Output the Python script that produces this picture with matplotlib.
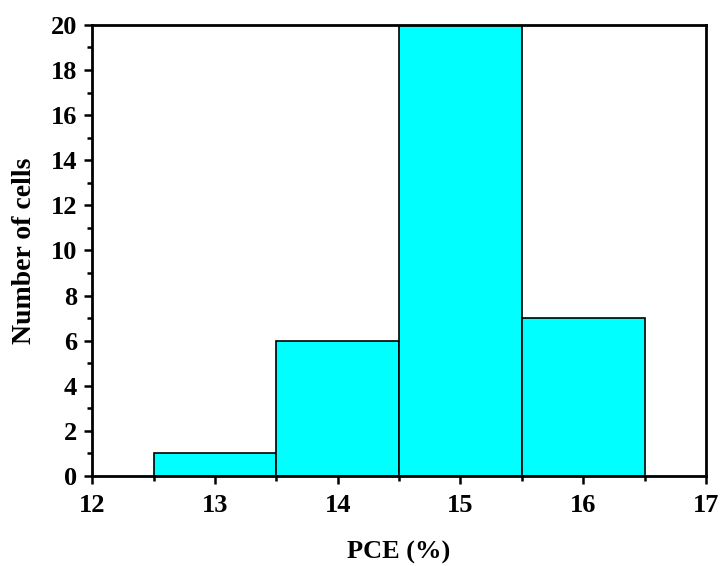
import numpy as np
import matplotlib.pyplot as plt
from matplotlib.ticker import MultipleLocator

plt.rcParams['font.family'] = ['Liberation Serif', 'DejaVu Serif']
plt.rcParams['font.weight'] = 'bold'

pce_centers = [13, 14, 15, 16]
cell_counts = [1, 6, 20, 7]

fig = plt.figure(figsize=(7.21, 5.66), dpi=100)
ax = fig.add_axes([0.128, 0.159, 0.851, 0.797])

ax.bar(pce_centers, cell_counts, width=1.0, color='#00ffff', edgecolor='black', linewidth=1.2)

ax.set_xlim(12, 17)
ax.set_ylim(0, 20)
ax.xaxis.set_major_locator(MultipleLocator(1))
ax.xaxis.set_minor_locator(MultipleLocator(0.5))
ax.yaxis.set_major_locator(MultipleLocator(2))
ax.yaxis.set_minor_locator(MultipleLocator(1))
ax.tick_params(which='both', direction='out', width=1.8, labelsize=19)
ax.tick_params(axis='x', pad=7)
ax.tick_params(axis='y', pad=5)
ax.tick_params(which='major', length=6)
ax.tick_params(which='minor', length=3.5)
for s in ax.spines.values():
    s.set_linewidth(2)

ax.set_xlabel("PCE (%)", fontsize=19, fontweight='bold', labelpad=17)
ax.set_ylabel("Number of cells", fontsize=20, fontweight='bold', labelpad=10)

fig.savefig("out.png", dpi=100)
